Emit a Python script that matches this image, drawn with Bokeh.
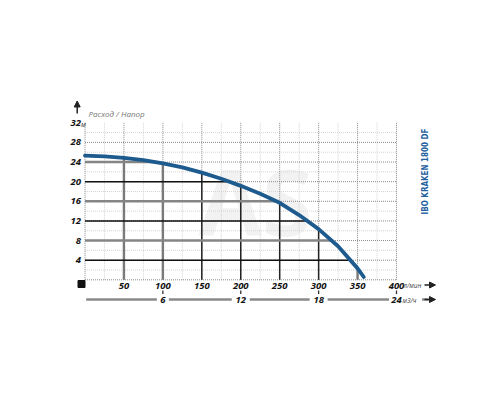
import numpy as np
from bokeh.plotting import figure
from bokeh.models import Range1d, Arrow, NormalHead
from bokeh.core.properties import value
from bokeh.embed import file_html
from bokeh.resources import INLINE

# ---------------- data ----------------
flow_lpm = [0, 25, 50, 75, 100, 125, 150, 175, 200, 225, 250, 275, 300, 325, 350, 358]
head_m = [25.3, 25.15, 24.85, 24.4, 23.75, 22.9, 21.85, 20.6, 19.15, 17.55, 15.7, 13.2, 10.33, 6.83, 2.33, 0.57]
x_ticks = [50, 100, 150, 200, 250, 300, 350, 400]
y_ticks = [4, 8, 12, 16, 20, 24, 28, 32]
m3h_ticks = [6, 12, 18, 24]
LPM_PER_M3H = 1000.0 / 60.0
x_unit = "л/мин"
y_unit = "м"
m3h_unit = "м3/ч"
title_text = "Расход / Напор"
model_text = "IBO KRAKEN 1800 DF"
watermark = "AS"

# ---------------- layout (pixel mapping) ----------------
PX_X0, PX_X400 = 84.5, 396.0
PX_Y0, PX_Y32 = 279.3, 122.3
sx = (PX_X400 - PX_X0) / 400.0
sy = (PX_Y0 - PX_Y32) / 32.0


def X(px):
    return (px - PX_X0) / sx


def Y(py):
    return (PX_Y0 - py) / sy


p = figure(width=500, height=400,
           x_range=Range1d(X(0), X(500)), y_range=Range1d(Y(400), Y(0)),
           output_backend="svg", toolbar_location=None,
           x_axis_location=None, y_axis_location=None,
           min_border=0, outline_line_color=None,
           background_fill_color="white", border_fill_color="white")
p.min_border_left = p.min_border_right = p.min_border_top = p.min_border_bottom = 0
p.xgrid.visible = False
p.ygrid.visible = False

FONT = value("Open Sans")

# watermark
p.text(x=[X(255)], y=[Y(200)], text=[watermark], text_font=FONT, text_font_size="92px",
       text_font_style="bold", text_color="#f2f2f2", text_align="center", text_baseline="middle")

xmax = x_ticks[-1]
ymax = y_ticks[-1]
x_major = [0] + x_ticks
y_major = [0] + y_ticks[:-1]
x_minor = [v - 25 for v in x_ticks]
y_minor = [v - 2 for v in y_ticks]

# minor dotted grid
p.segment(x0=x_minor, y0=[0] * len(x_minor), x1=x_minor, y1=[ymax] * len(x_minor),
          line_color="#d4d4d4", line_width=1, line_dash="1 1")
p.segment(x0=[0] * len(y_minor), y0=y_minor, x1=[xmax] * len(y_minor), y1=y_minor,
          line_color="#d4d4d4", line_width=1, line_dash="1 1")
# major dotted grid
p.segment(x0=x_major, y0=[0] * len(x_major), x1=x_major, y1=[ymax] * len(x_major),
          line_color="#8a8a8a", line_width=1, line_dash="1 1")
p.segment(x0=[0] * len(y_major), y0=y_major, x1=[xmax] * len(y_major), y1=y_major,
          line_color="#8a8a8a", line_width=1, line_dash="1 1")

# solid grid below the curve
q = np.array(flow_lpm, dtype=float)
h = np.array(head_m, dtype=float)
vx = [v for v in x_ticks if v <= q.max()]
vtop = [float(np.interp(v, q, h)) for v in vx]
v_gray = {50, 100, 350}
for xv, yt in zip(vx, vtop):
    g = xv in v_gray
    p.segment(x0=[xv], y0=[0], x1=[xv], y1=[yt],
              line_color="#7a7a7a" if g else "#222222", line_width=2.4 if g else 1.5)
hy = [v for v in y_ticks if v <= h.max()]
hright = [float(np.interp(v, h[::-1], q[::-1])) for v in hy]
for i, (yv, xr) in enumerate(zip(hy, hright)):
    g = (i % 2 == 1)
    p.segment(x0=[0], y0=[yv], x1=[xr], y1=[yv],
              line_color="#858585" if g else "#111111", line_width=2.6 if g else 1.5)

# pump curve
p.line(flow_lpm, head_m, line_color="#1d5a8e", line_width=3.8, line_cap="round", line_join="round")

# y labels
p.text(x=[X(80.5)] * len(y_ticks), y=y_ticks, text=[str(v) for v in y_ticks], text_font=FONT,
       text_font_size="9.5px", text_font_style="bold italic", text_color="#111111",
       text_align="right", text_baseline="middle")
p.text(x=[X(80.5)], y=[Y(124)], text=[y_unit], text_font=FONT, text_font_size="7px",
       text_font_style="italic", text_color="#333333", text_align="left", text_baseline="middle")

# x labels
p.text(x=x_ticks, y=[Y(285)] * len(x_ticks), text=[str(v) for v in x_ticks], text_font=FONT,
       text_font_size="9.5px", text_font_style="bold italic", text_color="#111111",
       text_align="center", text_baseline="middle")
p.text(x=[X(403)], y=[Y(285)], text=[x_unit], text_font=FONT, text_font_size="6.5px",
       text_font_style="italic", text_color="#444444", text_align="left", text_baseline="middle")

# second (m3/h) axis
m3h_x = [v * LPM_PER_M3H for v in m3h_ticks]
p.segment(x0=[X(85.7)], y0=[Y(299)], x1=[X(428)], y1=[Y(299)], line_color="#8a8a8a", line_width=2.5)
p.rect(x=m3h_x[:-1], y=[Y(299)] * (len(m3h_x) - 1),
       width=[12 if v < 10 else 18 for v in m3h_ticks[:-1]], height=8,
       width_units="screen", height_units="screen", fill_color="white", line_color=None)
p.rect(x=[X(405)], y=[Y(299)], width=33, height=8, width_units="screen", height_units="screen",
       fill_color="white", line_color=None)
p.segment(x0=m3h_x, y0=[Y(290)] * len(m3h_x), x1=m3h_x, y1=[Y(293.5)] * len(m3h_x),
          line_color="#333333", line_width=1.3)
p.text(x=m3h_x, y=[Y(299.5)] * len(m3h_x), text=[str(v) for v in m3h_ticks], text_font=FONT,
       text_font_size="9.5px", text_font_style="bold italic", text_color="#111111",
       text_align="center", text_baseline="middle")
p.text(x=[X(402)], y=[Y(299.5)], text=[m3h_unit], text_font=FONT, text_font_size="6.5px",
       text_font_style="italic", text_color="#444444", text_align="left", text_baseline="middle")

# arrows
for (x0, y0, x1, y1) in [(X(424), Y(284.5), X(435), Y(284.5)),
                         (X(424), Y(299), X(435), Y(299)),
                         (X(76.7), Y(113), X(76.7), Y(100.5))]:
    p.add_layout(Arrow(end=NormalHead(size=6, fill_color="#222222", line_color="#222222"),
                       x_start=x0, y_start=y0, x_end=x1, y_end=y1,
                       line_color="#222222", line_width=1.5))

# origin square
p.scatter(x=[X(81)], y=[Y(283.5)], marker="square", size=7, fill_color="#111111", line_color="#111111")

# title
p.text(x=[X(88)], y=[Y(112.5)], text=[title_text], text_font=FONT, text_font_size="8px",
       text_font_style="italic", text_color="#777777", text_align="left", text_baseline="middle")

# model name (vertical)
p.text(x=[X(425)], y=[Y(171)], text=[model_text], angle=np.pi / 2,
       text_font=value("'DejaVu Sans Condensed', 'Roboto', sans-serif"),
       text_font_size="8px", text_font_style="bold", text_color="#1f5f9f",
       text_align="center", text_baseline="middle")

open("out.html", "w").write(file_html(p, INLINE))
